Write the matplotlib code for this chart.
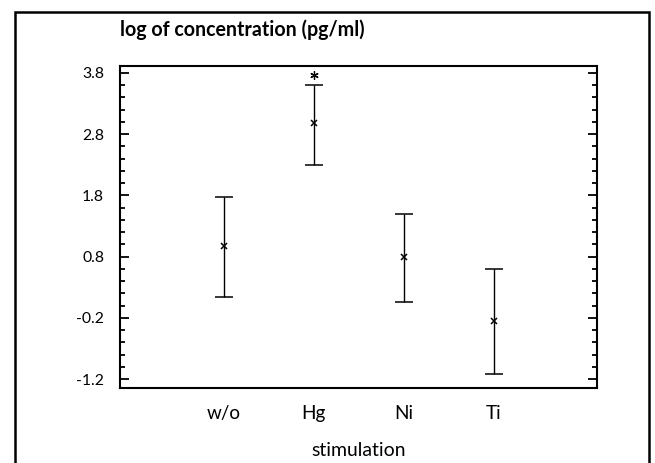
import numpy as np
import matplotlib.pyplot as plt
from matplotlib.patches import Rectangle
from matplotlib.ticker import FixedLocator, MultipleLocator

plt.rcParams['font.family'] = ['Lato', 'DejaVu Sans']

groups = ['w/o', 'Hg', 'Ni', 'Ti']
means = [0.97, 2.98, 0.79, -0.25]
lower = [0.14, 2.30, 0.06, -1.12]
upper = [1.77, 3.60, 1.50, 0.60]
yticks = [-1.2, -0.2, 0.8, 1.8, 2.8, 3.8]
star_y = 3.77

x = np.arange(1, len(groups) + 1)
err = [np.array(means) - np.array(lower), np.array(upper) - np.array(means)]

W, H = 655, 463
fig = plt.figure(figsize=(W / 100, H / 100), dpi=100)
# outer frame, open at the bottom
fig.patches.append(Rectangle((14.5 / W, -0.05), 634.5 / W, 1.05 - 12.5 / H,
                             transform=fig.transFigure, fill=False,
                             lw=1.8, ec='black'))

ax = fig.add_axes([120 / W, 1 - 388 / H, 477 / W, 322 / H])
ax.errorbar(x, means, yerr=err, fmt='x', color='black', ms=4, mew=1.1,
            ecolor='black', elinewidth=1, capsize=6.5, capthick=1)
ax.plot(2, star_y, marker=(6, 2, 0), ms=6, mew=0.9, color='black', ls='none')

ax.set_xlim(-0.15, 5.15)
ax.set_ylim(-1.347, 3.914)
ax.yaxis.set_major_locator(FixedLocator(yticks))
ax.set_yticklabels([f'{v:.1f}' for v in yticks])
ax.yaxis.set_minor_locator(MultipleLocator(0.2))
ax.set_xticks(x)
ax.set_xticklabels(groups)
ax.tick_params(axis='y', which='both', direction='in', left=True, right=True,
               labelsize=11, pad=11.5)
ax.tick_params(axis='y', which='major', length=6.5, width=1.3)
ax.tick_params(axis='y', which='minor', length=3.3, width=1.3)
ax.tick_params(axis='x', length=0, labelsize=11, pad=12)
for s in ax.spines.values():
    s.set_linewidth(1.5)

xl = ax.set_xlabel('stimulation', fontsize=11, va='center')
ax.xaxis.set_label_coords(0.5, (388 - 450) / 322)
title = fig.text(120 / W, 1 - 30 / H, 'log of concentration (pg/ml)',
                 fontsize=12, fontweight='bold', ha='left', va='center')

# size the text to the widths seen in the original
fig.canvas.draw()
r = fig.canvas.get_renderer()
def scaled(t, target):
    return t.get_fontsize() * target / t.get_window_extent(r).width

ax.tick_params(axis='y', labelsize=scaled(ax.get_yticklabels()[-1], 22))
ax.tick_params(axis='x', labelsize=scaled(ax.get_xticklabels()[0], 34))
xl.set_fontsize(scaled(xl, 94))
title.set_fontsize(scaled(title, 243))

fig.savefig('out.png', dpi=100)
